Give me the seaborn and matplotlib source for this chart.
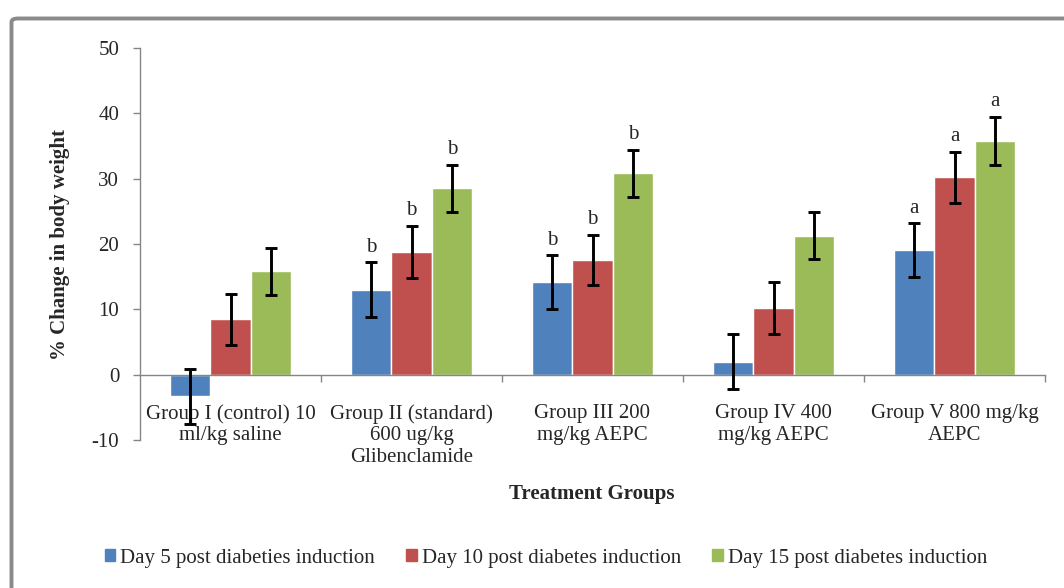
import numpy as np
import pandas as pd
import matplotlib
matplotlib.use("Agg")
import matplotlib.pyplot as plt
import matplotlib.patches as mpatches
import seaborn as sns

# ---- data ----
groups = [
    "Group I (control) 10\nml/kg saline",
    "Group II (standard)\n600 ug/kg\nGlibenclamide",
    "Group III 200\nmg/kg AEPC",
    "Group IV 400\nmg/kg AEPC",
    "Group V 800 mg/kg\nAEPC",
]
series = [
    "Day 5 post diabeties induction",
    "Day 10 post diabetes induction",
    "Day 15 post diabetes induction",
]
day5 = [-3.3, 13.0, 14.2, 2.0, 19.1]
day10 = [8.5, 18.8, 17.6, 10.2, 30.2]
day15 = [15.8, 28.5, 30.8, 21.3, 35.8]
err5 = [4.2, 4.2, 4.1, 4.2, 4.1]
err10 = [3.9, 4.0, 3.8, 4.0, 3.9]
err15 = [3.6, 3.6, 3.6, 3.6, 3.7]
sig5 = ["", "b", "b", "", "a"]
sig10 = ["", "b", "b", "", "a"]
sig15 = ["", "b", "b", "", "a"]
colors = ["#4F81BD", "#C0504D", "#9BBB59"]

df = pd.DataFrame({
    "group": groups * 3,
    "series": [s for s in series for _ in groups],
    "value": day5 + day10 + day15,
})
errs = [err5, err10, err15]
sigs = [sig5, sig10, sig15]

sns.set_style("white")
plt.rcParams["font.family"] = ["Liberation Serif", "DejaVu Serif"]
plt.rcParams["font.size"] = 15
plt.rcParams["axes.unicode_minus"] = False

fig = plt.figure(figsize=(10.64, 5.88), dpi=100)
ax = fig.add_axes([140 / 1064, 1 - 440 / 588, 905 / 1064, 392 / 588])

sns.barplot(data=df, x="group", y="value", hue="series", order=groups,
            hue_order=series, palette=colors, width=0.67, errorbar=None,
            saturation=1, ax=ax, legend=False)

# error bars and significance letters
for cont, e, s in zip(ax.containers, errs, sigs):
    xs = [p.get_x() + p.get_width() / 2 for p in cont.patches]
    ys = list(cont.datavalues)
    ax.errorbar(xs, ys, yerr=e, fmt="none", ecolor="black", elinewidth=2.1,
                capsize=4, capthick=2.1, zorder=3)
    for x, y, err, lab in zip(xs, ys, e, s):
        if lab:
            ax.annotate(lab, (x, y + err), xytext=(0, 4), textcoords="offset points",
                        ha="center", va="bottom", fontsize=15)

ax.set_ylim(-10, 50)
ax.set_xlim(-0.5, 4.5)
ax.set_yticks(range(-10, 51, 10))

axis_gray = "#868686"
for side in ["top", "right"]:
    ax.spines[side].set_visible(False)
ax.spines["bottom"].set_position(("data", 0))
for side in ["left", "bottom"]:
    ax.spines[side].set_color(axis_gray)
    ax.spines[side].set_linewidth(1.0)

ax.set_xticks(range(len(groups)))
ax.set_xticklabels(groups, linespacing=1.2)
ax.set_xticks(np.arange(0.5, 4.6, 1), minor=True)
ax.tick_params(axis="x", which="major", length=0, pad=21, labelsize=15)
ax.tick_params(axis="x", which="minor", length=5, width=1, color=axis_gray,
               direction="out", bottom=True)
ax.tick_params(axis="y", length=5, width=1, color=axis_gray, pad=10,
               labelsize=15, left=True)

ax.set_xlabel("")
ax.set_ylabel("")
fig.text(60 / 1064, 1 - 244 / 588, "% Change in body weight", rotation=90,
         ha="center", va="center", fontsize=15, fontweight="bold")
fig.text(592 / 1064, 1 - 494 / 588, "Treatment Groups", ha="center",
         va="center", fontsize=15, fontweight="bold")

handles = [mpatches.Patch(color=c, label=l) for c, l in zip(colors, series)]
fig.legend(handles=handles, loc="center", ncol=3,
           bbox_to_anchor=(546 / 1064, 1 - 558 / 588), frameon=False,
           fontsize=15, handlelength=0.5, handleheight=0.5,
           handletextpad=0.25, columnspacing=1.5)

# outer chart border (cut off on right and bottom)
border = mpatches.FancyBboxPatch((11.5 / 1064, -0.05), 1.1, 1 - 18.5 / 588 + 0.05,
                                 boxstyle="round,pad=0,rounding_size=0.006",
                                 transform=fig.transFigure, fill=False,
                                 edgecolor="#8a8a8a", linewidth=2.8,
                                 clip_on=False)
fig.patches.append(border)

fig.savefig("out.png", dpi=100)
